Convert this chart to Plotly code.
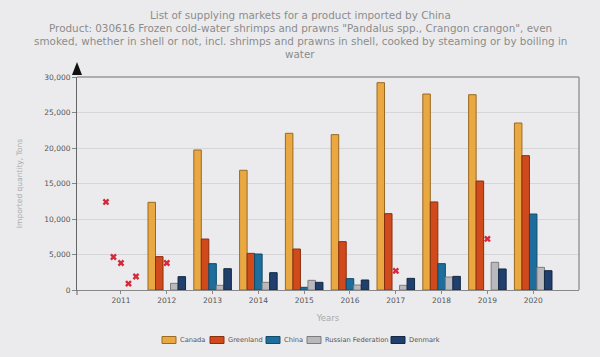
import plotly.graph_objects as go

years = [2011, 2012, 2013, 2014, 2015, 2016, 2017, 2018, 2019, 2020]
countries = ["Canada", "Greenland", "China", "Russian Federation", "Denmark"]
canada = [None, 12350, 19720, 16860, 22070, 21880, 29200, 27600, 27510, 23520]
greenland = [None, 4700, 7180, 5160, 5770, 6810, 10750, 12400, 15350, 18920]
china = [None, None, 3710, 5070, 380, 1600, None, 3710, None, 10700]
russia = [None, 940, 660, 1080, 1360, 700, 660, 1830, 3900, 3190]
denmark = [None, 1880, 3000, 2440, 1080, 1410, 1640, 1920, 2960, 2720]
# mirror-data markers (red crosses): year, country, value
mirror_years = [2011, 2011, 2011, 2011, 2011, 2012, 2017, 2019]
mirror_country = ["Canada", "Greenland", "China", "Russian Federation", "Denmark", "China", "China", "China"]
mirror_values = [12400, 4650, 3800, 900, 1900, 3800, 2700, 7200]
y_ticks = [0, 5000, 10000, 15000, 20000, 25000, 30000]
title_lines = [
    "List of supplying markets for a product imported by China",
    "Product: 030616 Frozen cold-water shrimps and prawns \"Pandalus spp., Crangon crangon\", even",
    "smoked, whether in shell or not, incl. shrimps and prawns in shell, cooked by steaming or by boiling in",
    "water",
]

series = [canada, greenland, china, russia, denmark]
colors = ["#e9a841", "#d14a1c", "#1d6e9c", "#b9b9bd", "#203f6c"]
lines = ["#9a6a22", "#8a2e10", "#124a6a", "#7c7c80", "#122844"]

W, H = 600, 357
ML, MR, MT, MB = 77, 21, 77, 67
PW, PH = W - ML - MR, H - MT - MB

bargap = 0.18
fig = go.Figure()
for name, vals, c, lc in zip(countries, series, colors, lines):
    fig.add_trace(go.Bar(x=years, y=vals, name=name, showlegend=False,
                         marker=dict(color=c, line=dict(color=lc, width=1))))

w = (1 - bargap) / len(countries)
mx = [y + (countries.index(c) - (len(countries) - 1) / 2) * w for y, c in zip(mirror_years, mirror_country)]
fig.add_trace(go.Scatter(x=mx, y=mirror_values, mode="markers", showlegend=False,
                         marker=dict(symbol="x", size=6, color="#d42a3a", line=dict(width=0))))

shapes = [
    dict(type="line", xref="paper", yref="paper", x0=0, x1=1, y0=1, y1=1, line=dict(color="#999", width=1.5)),
    dict(type="line", xref="paper", yref="paper", x0=1, x1=1, y0=0, y1=1, line=dict(color="#999", width=1.5)),
    dict(type="line", xref="paper", yref="paper", x0=0, x1=0, y0=-5 / PH, y1=0, line=dict(color="#666", width=1)),
    dict(type="path", xref="paper", yref="paper", xsizemode="pixel", ysizemode="pixel",
         xanchor=0, yanchor=1, path="M -5,2 L 5,2 L 0,15 Z", fillcolor="#111", line=dict(width=0)),
]
annotations = []

# title as separate centred lines (13 px line pitch)
for i, t in enumerate(title_lines):
    py = 15 + 13 * i
    annotations.append(dict(text=t, xref="paper", yref="paper", x=(W / 2 - ML) / PW, y=(MT + PH - py) / PH,
                            xanchor="center", yanchor="middle", showarrow=False,
                            font=dict(family="DejaVu Sans", size=10.4, color="#8c8c8c")))

# manual compact legend (pixel positions converted to paper coords)
legend_px = [162, 210, 266, 307, 391]
ly = (MT + PH - 340) / PH
for px, name, c, lc in zip(legend_px, countries, colors, lines):
    x0 = (px - ML) / PW
    x1 = (px + 14 - ML) / PW
    shapes.append(dict(type="rect", xref="paper", yref="paper", x0=x0, x1=x1,
                       y0=ly - 3.5 / PH, y1=ly + 3.5 / PH, fillcolor=c, line=dict(color=lc, width=1)))
    annotations.append(dict(text=name, xref="paper", yref="paper", x=(px + 16 - ML) / PW, y=ly,
                            xanchor="left", yanchor="middle", showarrow=False,
                            font=dict(family="DejaVu Sans", size=6.7, color="#555")))

fig.update_layout(
    width=W, height=H,
    paper_bgcolor="#ebebed", plot_bgcolor="#ebebed",
    margin=dict(l=ML, r=MR, t=MT, b=MB),
    barmode="group", bargap=bargap, bargroupgap=0,
    font=dict(family="DejaVu Sans", size=8, color="#555"),
    xaxis=dict(range=[2010.04, 2021], tickmode="array", tickvals=years, ticktext=[str(y) for y in years],
               showgrid=False, zeroline=False, showline=True, linecolor="#888", linewidth=1, automargin=False,
               ticks="outside", ticklen=3, tickcolor="#888", tickfont=dict(size=7.5, color="#555"),
               title=dict(text="Years", font=dict(size=8.5, color="#aaa"), standoff=11)),
    yaxis=dict(range=[0, 30000], tickmode="array", tickvals=y_ticks,
               ticktext=[f"{v:,}" for v in y_ticks], automargin=False,
               showgrid=True, gridcolor="#d6d6d8", gridwidth=1, zeroline=False,
               showline=True, linecolor="#666", linewidth=1, ticks="outside", ticklen=4, tickcolor="#888",
               tickfont=dict(size=7.5, color="#555"),
               title=dict(text="Imported quantity, Tons", font=dict(size=7.5, color="#aaa"), standoff=20)),
    showlegend=False,
    shapes=shapes,
    annotations=annotations,
)
fig.write_html("out.html", config={"displayModeBar": False},
               post_script="document.body.style.margin='0';document.body.style.background='#ebebed';")
